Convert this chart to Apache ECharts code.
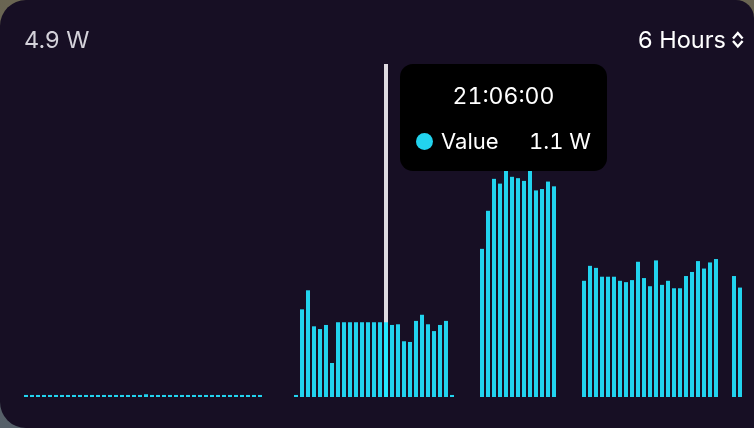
<!DOCTYPE html>
<html lang="en">
<head>
	<meta charset="UTF-8">
	<title>Power</title>
	<script src="https://cdn.jsdelivr.net/npm/echarts@6/dist/echarts.min.js"></script>
	<style>
		html, body { margin: 0; padding: 0; }
		body { width: 754px; height: 428px; overflow: hidden; background: linear-gradient(#6a6552, #56606a); }
		#main { width: 754px; height: 428px; background: #170f24; border-radius: 26px 18px 0 26px; }
	</style>
</head>
<body>
	<div id="main"></div>
	<script>
		// watts, one bar every 3 minutes over 6 hours
		var values = [
			0.03,0.03,0.03,0.03,0.03,0.03,0.03,0.03,0.03,0.03,
			0.03,0.03,0.03,0.03,0.03,0.03,0.03,0.03,0.03,0.03,
			0.04,0.03,0.03,0.03,0.03,0.03,0.03,0.03,0.03,0.03,
			0.03,0.03,0.03,0.03,0.03,0.03,0.03,0.03,0.03,0.03,
			null,null,null,null,null,0.03,
			1.29,1.57,1.04,1.00,1.06,0.50,1.10,1.10,1.10,1.10,
			1.10,1.10,1.10,1.10,1.10,1.06,1.07,0.82,0.81,1.12,
			1.21,1.07,0.97,1.06,1.12,0.03,
			null,null,null,null,
			2.18,2.74,3.21,3.14,3.35,3.24,3.22,3.18,3.38,3.04,3.06,3.17,3.10,
			null,null,null,null,
			1.71,1.93,1.90,1.77,1.77,1.77,1.71,1.69,1.72,1.99,
			1.75,1.63,2.01,1.65,1.71,1.60,1.60,1.78,1.84,2.00,
			1.89,1.98,2.03,
			null,null,
			1.78,1.61
		];
		var startMinute = 18 * 60 + 6;
		var times = [];
		for (var i = 0; i < values.length; i++) {
			var m = startMinute + i * 3;
			var hh = Math.floor(m / 60) % 24, mm = m % 60;
			times.push((hh < 10 ? '0' : '') + hh + ':' + (mm < 10 ? '0' : '') + mm + ':00');
		}
		var maxValue = 4.9;
		var rangeLabel = '6 Hours';
		var seriesName = 'Value';
		var selected = 60;

		var font = 'Inter, "Noto Sans", sans-serif';
		var option = {
			animation: false,
			grid: { left: 23, right: 11, top: 64, bottom: 31 },
			tooltip: {
				trigger: 'axis',
				triggerOn: 'none',
				alwaysShowContent: true,
				position: [400, 64],
				padding: 0,
				borderWidth: 0,
				backgroundColor: '#000',
				extraCssText: 'border-radius:13px;box-shadow:none;',
				axisPointer: {
					type: 'line',
					z: 1,
					lineStyle: { color: '#dedae0', width: 4, type: 'solid' }
				},
				formatter: function (params) {
					var p = params[0];
					return '<div style="position:relative;width:207px;height:107px;font-family:Inter,sans-serif;color:#fff;font-variant-numeric:tabular-nums;">' +
						'<div style="position:absolute;left:0;right:0;top:18px;text-align:center;font-size:23px;line-height:28px;">' + p.name + '</div>' +
						'<div style="position:absolute;left:16px;top:69px;width:17px;height:17px;border-radius:50%;background:#22d3ee;"></div>' +
						'<div style="position:absolute;left:41px;top:63px;font-size:22px;line-height:28px;">' + p.seriesName + '</div>' +
						'<div style="position:absolute;right:16px;top:63px;font-size:22px;line-height:28px;">' + p.value + ' W</div>' +
						'</div>';
				}
			},
			xAxis: {
				type: 'category',
				data: times,
				axisLine: { show: false },
				axisTick: { show: false },
				axisLabel: { show: false },
				splitLine: { show: false }
			},
			yAxis: {
				type: 'value',
				min: 0,
				max: maxValue,
				show: false
			},
			graphic: [
				{
					type: 'text', left: 24, top: 29,
					style: { text: maxValue + ' W', font: '23.5px ' + font, fill: '#d4d2da' }
				},
				{
					type: 'text', right: 28, top: 29,
					style: { text: rangeLabel, font: '23.5px ' + font, fill: '#ffffff' }
				},
				{
					type: 'polyline', shape: { points: [[733, 38.5], [737.8, 33], [742.6, 38.5]] },
					style: { stroke: '#fff', lineWidth: 2.4, fill: null }
				},
				{
					type: 'polyline', shape: { points: [[733, 41], [737.8, 46.5], [742.6, 41]] },
					style: { stroke: '#fff', lineWidth: 2.4, fill: null }
				}
			],
			series: [
				{
					name: seriesName,
					type: 'bar',
					barWidth: 4,
					itemStyle: { color: '#22d3ee' },
					data: values
				}
			]
		};
		var myChart = echarts.init(document.getElementById('main'));
		myChart.setOption(option);
		myChart.dispatchAction({ type: 'showTip', seriesIndex: 0, dataIndex: selected });
	</script>
</body>
</html>
